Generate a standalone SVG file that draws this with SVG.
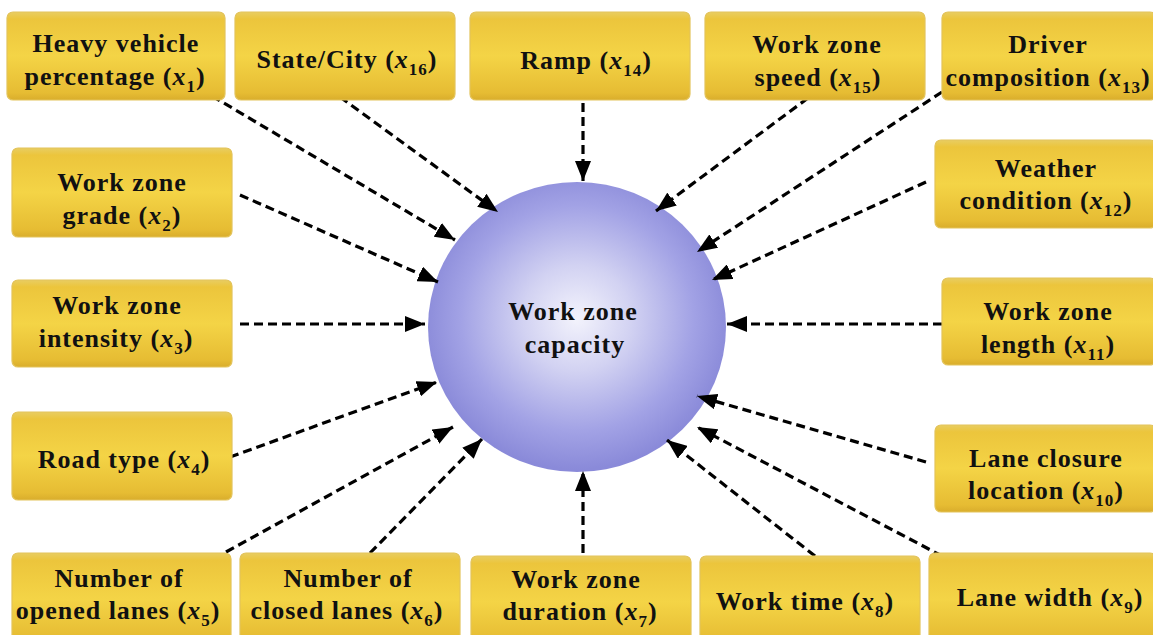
<svg xmlns="http://www.w3.org/2000/svg" width="1153" height="635" viewBox="0 0 1153 635">
<defs>
<linearGradient id="gold" x1="0" y1="0" x2="0" y2="1">
<stop offset="0" stop-color="#e8cd62"/>
<stop offset="0.08" stop-color="#ecc53c"/>
<stop offset="0.5" stop-color="#f4d446"/>
<stop offset="0.92" stop-color="#e6bc33"/>
<stop offset="1" stop-color="#d9ad2c"/>
</linearGradient>
<radialGradient id="ball" cx="0.5" cy="0.47" r="0.52">
<stop offset="0" stop-color="#f3f3fc"/>
<stop offset="0.35" stop-color="#d2d2f2"/>
<stop offset="0.75" stop-color="#a2a2e5"/>
<stop offset="1" stop-color="#8a8ad9"/>
</radialGradient>
<marker id="ah" viewBox="0 0 20 16" refX="20" refY="8" markerWidth="20" markerHeight="16" markerUnits="userSpaceOnUse" orient="auto">
<path d="M0,0 L20,8 L0,16 z" fill="#000"/>
</marker>
<style>
.box{fill:url(#gold);stroke:#e3c35a;stroke-width:1.2}
.t{font-family:"Liberation Serif","Times New Roman",serif;font-weight:bold;font-size:26px;letter-spacing:1px;fill:#111;text-anchor:middle}
.i{font-style:italic}
.s{font-size:17px}
.c{fill:none;stroke:#000;stroke-width:3.2;stroke-dasharray:9 5;marker-end:url(#ah)}
</style>
</defs>
<rect width="1153" height="635" fill="#fff"/>

<g id="center">
<ellipse cx="577" cy="327" rx="149" ry="145" fill="url(#ball)"/>
<text class="t" x="573" y="320">Work zone</text>
<text class="t" x="575" y="353">capacity</text>
</g>

<g id="connectors">
<line class="c" x1="212" y1="96" x2="455" y2="240"/>
<line class="c" x1="340" y1="97" x2="498" y2="212"/>
<line class="c" x1="583" y1="103" x2="583" y2="181"/>
<line class="c" x1="808" y1="98" x2="656" y2="211"/>
<line class="c" x1="942" y1="92" x2="697" y2="252"/>
<line class="c" x1="926" y1="182" x2="712" y2="280"/>
<line class="c" x1="942" y1="324" x2="727" y2="324"/>
<line class="c" x1="926" y1="462" x2="697" y2="396"/>
<line class="c" x1="942" y1="556" x2="697" y2="427"/>
<line class="c" x1="815" y1="556" x2="667" y2="440"/>
<line class="c" x1="583" y1="553" x2="583" y2="471"/>
<line class="c" x1="370" y1="553" x2="482" y2="439"/>
<line class="c" x1="226" y1="552" x2="453" y2="427"/>
<line class="c" x1="230" y1="457" x2="437" y2="382"/>
<line class="c" x1="240" y1="324" x2="425" y2="324"/>
<line class="c" x1="240" y1="195" x2="438" y2="282"/>
</g>

<g id="x1">
<rect class="box" x="7" y="12" width="218" height="88" rx="6"/>
<text class="t" x="116" y="52">Heavy vehicle</text>
<text class="t" x="115" y="85">percentage (<tspan class="i">x</tspan><tspan class="s" dy="7">1</tspan><tspan dy="-7">)</tspan></text>
</g>
<g id="x16">
<rect class="box" x="235" y="12" width="220" height="88" rx="6"/>
<text class="t" x="347" y="68">State/City (<tspan class="i">x</tspan><tspan class="s" dy="7">16</tspan><tspan dy="-7">)</tspan></text>
</g>
<g id="x14">
<rect class="box" x="470" y="12" width="220" height="88" rx="6"/>
<text class="t" x="586" y="69">Ramp (<tspan class="i">x</tspan><tspan class="s" dy="7">14</tspan><tspan dy="-7">)</tspan></text>
</g>
<g id="x15">
<rect class="box" x="705" y="12" width="220" height="88" rx="6"/>
<text class="t" x="817" y="53">Work zone</text>
<text class="t" x="818" y="86">speed (<tspan class="i">x</tspan><tspan class="s" dy="7">15</tspan><tspan dy="-7">)</tspan></text>
</g>
<g id="x13">
<rect class="box" x="942" y="12" width="214" height="88" rx="6"/>
<text class="t" x="1048" y="53">Driver</text>
<text class="t" x="1048" y="86">composition (<tspan class="i">x</tspan><tspan class="s" dy="7">13</tspan><tspan dy="-7">)</tspan></text>
</g>

<g id="x2">
<rect class="box" x="12" y="148" width="220" height="89" rx="6"/>
<text class="t" x="122" y="191">Work zone</text>
<text class="t" x="122" y="224">grade (<tspan class="i">x</tspan><tspan class="s" dy="7">2</tspan><tspan dy="-7">)</tspan></text>
</g>
<g id="x3">
<rect class="box" x="12" y="280" width="220" height="87" rx="6"/>
<text class="t" x="117" y="314">Work zone</text>
<text class="t" x="116" y="347">intensity (<tspan class="i">x</tspan><tspan class="s" dy="7">3</tspan><tspan dy="-7">)</tspan></text>
</g>
<g id="x4">
<rect class="box" x="12" y="412" width="220" height="88" rx="6"/>
<text class="t" x="124" y="468">Road type (<tspan class="i">x</tspan><tspan class="s" dy="7">4</tspan><tspan dy="-7">)</tspan></text>
</g>

<g id="x12">
<rect class="box" x="935" y="140" width="221" height="88" rx="6"/>
<text class="t" x="1046" y="177">Weather</text>
<text class="t" x="1046" y="209">condition (<tspan class="i">x</tspan><tspan class="s" dy="7">12</tspan><tspan dy="-7">)</tspan></text>
</g>
<g id="x11">
<rect class="box" x="942" y="278" width="214" height="87" rx="6"/>
<text class="t" x="1048" y="320">Work zone</text>
<text class="t" x="1048" y="353">length (<tspan class="i">x</tspan><tspan class="s" dy="7">11</tspan><tspan dy="-7">)</tspan></text>
</g>
<g id="x10">
<rect class="box" x="935" y="425" width="221" height="87" rx="6"/>
<text class="t" x="1046" y="467">Lane closure</text>
<text class="t" x="1046" y="499">location (<tspan class="i">x</tspan><tspan class="s" dy="7">10</tspan><tspan dy="-7">)</tspan></text>
</g>

<g id="x5">
<rect class="box" x="12" y="553" width="219" height="92" rx="6"/>
<text class="t" x="119" y="587">Number of</text>
<text class="t" x="118" y="619">opened lanes (<tspan class="i">x</tspan><tspan class="s" dy="7">5</tspan><tspan dy="-7">)</tspan></text>
</g>
<g id="x6">
<rect class="box" x="240" y="553" width="220" height="92" rx="6"/>
<text class="t" x="348" y="587">Number of</text>
<text class="t" x="347" y="619">closed lanes (<tspan class="i">x</tspan><tspan class="s" dy="7">6</tspan><tspan dy="-7">)</tspan></text>
</g>
<g id="x7">
<rect class="box" x="471" y="556" width="220" height="92" rx="6"/>
<text class="t" x="576" y="588">Work zone</text>
<text class="t" x="580" y="620">duration (<tspan class="i">x</tspan><tspan class="s" dy="7">7</tspan><tspan dy="-7">)</tspan></text>
</g>
<g id="x8">
<rect class="box" x="700" y="556" width="220" height="92" rx="6"/>
<text class="t" x="805" y="610">Work time (<tspan class="i">x</tspan><tspan class="s" dy="7">8</tspan><tspan dy="-7">)</tspan></text>
</g>
<g id="x9">
<rect class="box" x="929" y="553" width="227" height="92" rx="6"/>
<text class="t" x="1050" y="606">Lane width (<tspan class="i">x</tspan><tspan class="s" dy="7">9</tspan><tspan dy="-7">)</tspan></text>
</g>
</svg>
